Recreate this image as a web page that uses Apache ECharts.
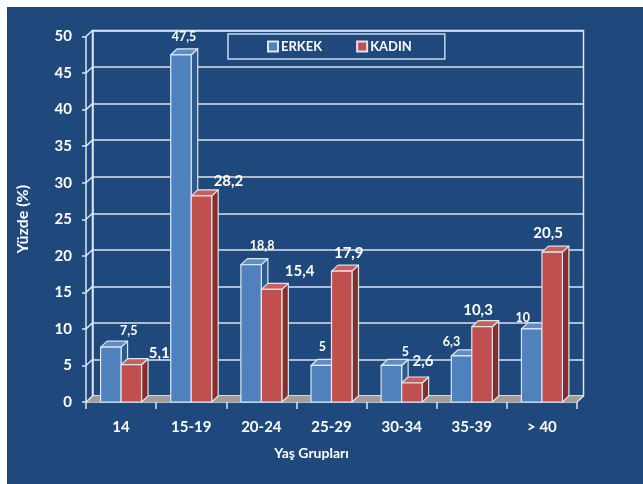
<!DOCTYPE html>
<html>
<head>
<meta charset="utf-8">
<script src="https://cdn.jsdelivr.net/npm/echarts@6/dist/echarts.min.js"></script>
<style>
  html, body { margin: 0; padding: 0; background: #ffffff; }
  #panel { position: absolute; left: 7px; top: 7px; width: 636px; height: 477px; background: #1f497d; }
  #chart { position: absolute; left: 0; top: 0; width: 643px; height: 484px; }
</style>
</head>
<body>
<div id="panel"></div>
<div id="chart"></div>
<script>
// Age groups and percentages by sex
const ageGroups = ['14', '15-19', '20-24', '25-29', '30-34', '35-39', '> 40'];
const erkek = [7.5, 47.5, 18.8, 5, 5, 6.3, 10];
const kadin = [5.1, 28.2, 15.4, 17.9, 2.6, 10.3, 20.5];
const yTicks = [0, 5, 10, 15, 20, 25, 30, 35, 40, 45, 50];

// Nudges (px) of each value label from the top of its bar
const erkekLabelShift = [[18, -16], [3, -18], [11, -19], [1, -18], [14, -13], [-10, -14], [-9, -11]];
const kadinLabelShift = [[28, -12], [27, -15], [28, -18], [7, -18], [11, -22], [-4, -17], [-4, -19]];

// Depth of the pseudo-3D box
const DX = 6.5, DY = -6;
const LINE = '#dde5ef';
const FONT = 'Lato';

const faces = {
  ERKEK: { front: '#4f81bd', top: '#5f8dc6', side: '#2f5a8c' },
  KADIN: { front: '#c0504d', top: '#c95f5c', side: '#8a2c2a' }
};

function fmt(v) { return String(v).replace('.', ','); }

function barRenderer(side, name, shifts, labelSize) {
  const c = faces[name];
  return function (params, api) {
    const i = api.value(0), v = api.value(1);
    const base = api.coord([i, 0]);
    const top = api.coord([i, v]);
    const bw = api.size([1, 0])[0] * 0.292;
    const x0 = side === 0 ? base[0] - bw : base[0];
    const x1 = x0 + bw;
    const y0 = top[1], y1 = base[1];
    const stroke = { stroke: LINE, lineWidth: 1.2, lineJoin: 'round' };
    const sh = shifts[i];
    return {
      type: 'group',
      children: [
        { type: 'polygon', shape: { points: [[x1, y0], [x1 + DX, y0 + DY], [x1 + DX, y1 + DY], [x1, y1]] },
          style: Object.assign({ fill: c.side }, stroke) },
        { type: 'polygon', shape: { points: [[x0, y0], [x0 + DX, y0 + DY], [x1 + DX, y0 + DY], [x1, y0]] },
          style: Object.assign({ fill: c.top }, stroke) },
        { type: 'rect', shape: { x: x0, y: y0, width: bw, height: y1 - y0 },
          style: Object.assign({ fill: c.front }, stroke) },
        { type: 'text', x: (x0 + x1) / 2 + sh[0], y: y0 + sh[1], z2: 10,
          style: { text: fmt(v), fill: '#ffffff', fontFamily: FONT, fontWeight: 'bold',
                   fontSize: labelSize, align: 'center', verticalAlign: 'middle' } }
      ]
    };
  };
}

// Grey floor under the bars, with its right-hand diagonal edge
function floorRenderer(params, api) {
  const cs = params.coordSys;
  const yb = cs.y + cs.height, xr = cs.x + cs.width;
  return {
    type: 'group',
    children: [
      { type: 'polygon', shape: { points: [[cs.x, yb], [xr, yb], [xr + DX, yb + DY], [cs.x + DX, yb + DY]] },
        style: { fill: '#a39d95' } },
      { type: 'line', shape: { x1: xr, y1: yb, x2: xr + DX, y2: yb + DY },
        style: { stroke: LINE, lineWidth: 1.5 } }
    ]
  };
}

// Diagonal links between the front value axis and the back wall
function sideWallRenderer(params, api) {
  const cs = params.coordSys;
  const y = api.coord([0, api.value(0)])[1];
  return { type: 'line', shape: { x1: cs.x, y1: y, x2: cs.x + DX, y2: y + DY },
           style: { stroke: LINE, lineWidth: 1.5 } };
}

const chart = echarts.init(document.getElementById('chart'));
chart.setOption({
  animation: false,
  backgroundColor: 'transparent',
  legend: {
    data: ['ERKEK', 'KADIN'],
    left: 228, top: 34,
    padding: [6, 33, 6, 39],
    itemGap: 34,
    itemWidth: 10, itemHeight: 10,
    icon: 'rect',
    borderColor: '#c9d6e6', borderWidth: 1.5,
    textStyle: { color: '#ffffff', fontFamily: FONT, fontWeight: 'bold', fontSize: 13, padding: [0, 0, 0, -2] }
  },
  grid: [
    { left: 86, top: 36.5, width: 491, height: 365.5 },
    { left: 92.5, top: 30.5, width: 491, height: 365.5, show: true,
      borderColor: LINE, borderWidth: 1.5, backgroundColor: 'transparent' }
  ],
  xAxis: [
    { type: 'category', gridIndex: 0, data: ageGroups,
      name: 'Yaş Grupları', nameLocation: 'middle', nameGap: 44,
      nameTextStyle: { color: '#ffffff', fontFamily: FONT, fontWeight: 'bold', fontSize: 14, padding: [0, 40, 0, 0] },
      axisLine: { lineStyle: { color: LINE, width: 1.5 } },
      axisTick: { show: true, length: 7, interval: 0, lineStyle: { color: LINE, width: 1.5 } },
      axisLabel: { color: '#ffffff', fontFamily: FONT, fontWeight: 'bold', fontSize: 15, margin: 18 } },
    { type: 'value', gridIndex: 1, show: false, min: 0, max: 1 }
  ],
  yAxis: [
    { type: 'value', gridIndex: 0, min: 0, max: 50, interval: 5,
      name: 'Yüzde (%)', nameLocation: 'middle', nameGap: 55, nameRotate: 90,
      nameTextStyle: { color: '#ffffff', fontFamily: FONT, fontWeight: 'bold', fontSize: 16 },
      axisLine: { show: true, lineStyle: { color: LINE, width: 1.5 } },
      axisTick: { show: true, length: 4, lineStyle: { color: LINE, width: 1.5 } },
      splitLine: { show: false },
      axisLabel: { color: '#ffffff', fontFamily: FONT, fontWeight: 'bold', fontSize: 15, margin: 14 } },
    { type: 'value', gridIndex: 1, min: 0, max: 50, interval: 5,
      axisLine: { show: true, lineStyle: { color: LINE, width: 1.5 } },
      axisTick: { show: false }, axisLabel: { show: false },
      splitLine: { show: true, lineStyle: { color: LINE, width: 1.5 } } }
  ],
  series: [
    { type: 'custom', name: 'floor', xAxisIndex: 0, yAxisIndex: 0, z: 2,
      data: [[0, 0]], renderItem: floorRenderer, silent: true },
    { type: 'custom', name: 'wall', xAxisIndex: 0, yAxisIndex: 0, z: 2,
      data: yTicks.map(v => [v]), encode: { y: 0 }, renderItem: sideWallRenderer, silent: true },
    { type: 'custom', name: 'ERKEK', xAxisIndex: 0, yAxisIndex: 0, z: 3,
      itemStyle: { color: faces.ERKEK.front, borderColor: LINE, borderWidth: 1 },
      data: erkek.map((v, i) => [i, v]), encode: { x: 0, y: 1 },
      renderItem: barRenderer(0, 'ERKEK', erkekLabelShift, 12.5) },
    { type: 'custom', name: 'KADIN', xAxisIndex: 0, yAxisIndex: 0, z: 4,
      itemStyle: { color: faces.KADIN.front, borderColor: LINE, borderWidth: 1 },
      data: kadin.map((v, i) => [i, v]), encode: { x: 0, y: 1 },
      renderItem: barRenderer(1, 'KADIN', kadinLabelShift, 15) }
  ]
});
</script>
</body>
</html>
